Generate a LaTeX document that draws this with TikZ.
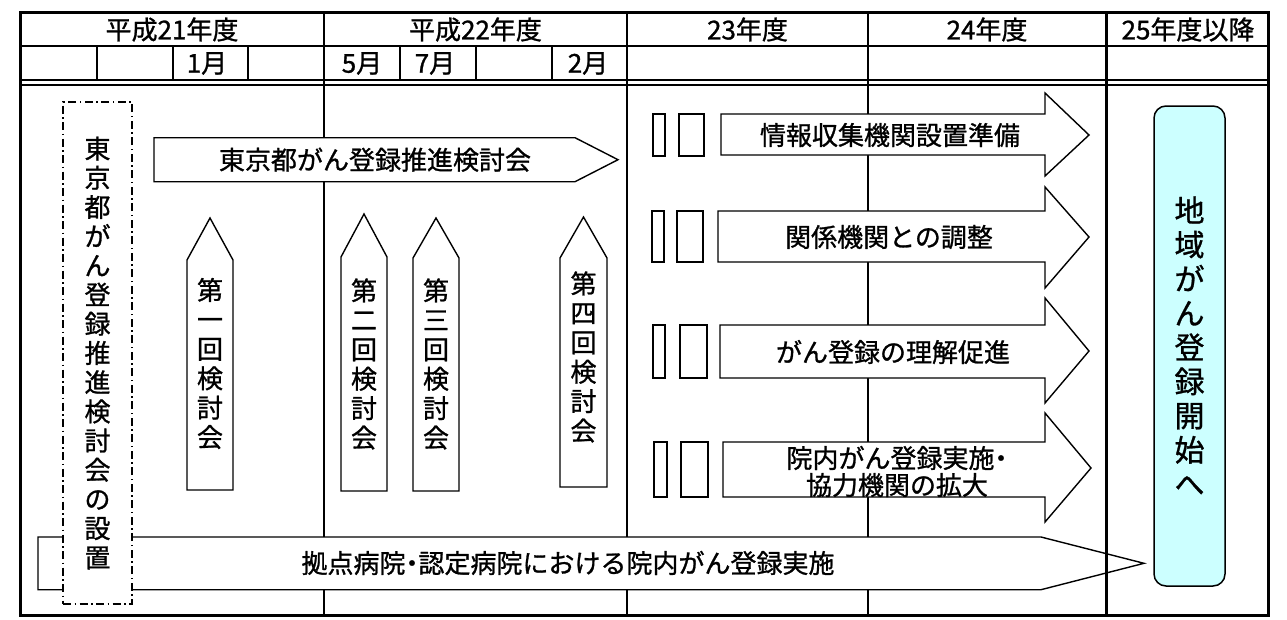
\documentclass[tikz,border=0pt]{standalone}
\usepackage{fontspec}
\setmainfont{Noto Sans CJK JP}[BoldFont={Noto Sans CJK JP}, BoldFeatures={FakeBold=1.0}]
\definecolor{cyanfill}{RGB}{204,255,255}
\newcommand{\nardot}{\kern-0.25em・\kern-0.25em}
\begin{document}
\begin{tikzpicture}[x=1pt,y=-1pt,
  framerule/.style={line width=3.3pt},
  mainrule/.style={line width=2.7pt},
  rowrule/.style={line width=2.3pt},
  subrule/.style={line width=2pt},
  shp/.style={draw=black, fill=white, line width=1.4pt, line join=miter},
  txt/.style={inner sep=0pt, font=\fontsize{26}{30}\selectfont\bfseries},
  vtxt/.style={inner sep=0pt, align=center, font=\fontsize{26}{29.4}\selectfont\bfseries},
]
\useasboundingbox (0,0) rectangle (1287,619);
\fill[white] (0,0) rectangle (1287,619);

% ---- grid ----
\draw[rowrule] (20.5,46) -- (1268.7,46);
\draw[rowrule] (20.5,80) -- (1268.7,80);
\draw[rowrule] (20.5,85) -- (1268.7,85);
\foreach \x in {97,173,248,400,476,552} \draw[subrule] (\x,46) -- (\x,80);
\foreach \x in {324,627,868} \draw[mainrule] (\x,12.5) -- (\x,615.7);

% ---- header texts ----
\node[txt] (h21) at (172,29.5) {平成21年度};
\node[txt] (h22) at (475.5,29.5) {平成22年度};
\node[txt] (h23) at (747.5,29.5) {23年度};
\node[txt] (h24) at (987,29.5) {24年度};
\node[txt] (h25) at (1188,29.5) {25年度以降};
\node[txt] (m1) at (207,63.5) {1月};
\node[txt] (m5) at (362,63.5) {5月};
\node[txt] (m7) at (435,63.5) {7月};
\node[txt] (m2) at (588,63.5) {2月};

% ---- bottom long arrow ----
\draw[shp] (38,537) -- (1041,537) -- (1144,563.3) -- (1041,589.7) -- (38,589.7) -- cycle;
\node[txt] (bottxt) at (568,563) {拠点病院\nardot 認定病院における院内がん登録実施};

% ---- dash-dot box with vertical text ----
\node[draw=black, fill=white, line width=1.4pt,
      dash pattern=on 8pt off 3.5pt on 1.5pt off 3.5pt,
      minimum width=69pt, minimum height=502pt, inner sep=0pt,
      align=center, font=\fontsize{26}{29.2}\selectfont\bfseries] (setup) at (97.5,353)
  {東\\京\\都\\が\\ん\\登\\録\\推\\進\\検\\討\\会\\の\\設\\置};

% ---- top meeting arrow ----
\draw[shp] (154,137.7) -- (575,137.7) -- (618,159.7) -- (575,181.7) -- (154,181.7) -- cycle;
\node[txt] (kentou) at (375,159.7) {東京都がん登録推進検討会};

% ---- vertical meeting arrows ----
\draw[shp] (187,490) -- (187,260) -- (210,218) -- (233,260) -- (233,490) -- cycle;
\node[vtxt] (k1) at (210,363.5) {第\\一\\回\\検\\討\\会};
\draw[shp] (341,491) -- (341,257) -- (364,214) -- (387,257) -- (387,491) -- cycle;
\node[vtxt] (k2) at (364,364) {第\\二\\回\\検\\討\\会};
\draw[shp] (413,491) -- (413,258) -- (436,218) -- (459,258) -- (459,491) -- cycle;
\node[vtxt] (k3) at (436,364) {第\\三\\回\\検\\討\\会};
\draw[shp] (560,487) -- (560,258) -- (583.5,217) -- (607,258) -- (607,487) -- cycle;
\node[vtxt] (k4) at (583.5,357) {第\\四\\回\\検\\討\\会};

% ---- right block arrows with small boxes ----
\draw[shp] (653,114) rectangle (665,156);
\draw[shp] (679,114) rectangle (704,156);
\draw[shp] (721,114) -- (1045,114) -- (1045,93) -- (1089,135) -- (1045,176) -- (1045,155) -- (721,155) -- cycle;
\node[txt] (a1) at (890,135) {情報収集機関設置準備};

\draw[shp] (652,211) rectangle (664,262);
\draw[shp] (677,211) rectangle (703,262);
\draw[shp] (718,211) -- (1045,211) -- (1045,187) -- (1089,237) -- (1045,288) -- (1045,262) -- (718,262) -- cycle;
\node[txt] (a2) at (889,237) {関係機関との調整};

\draw[shp] (653,325) rectangle (665,378);
\draw[shp] (680,325) rectangle (707,378);
\draw[shp] (720,325) -- (1045,325) -- (1045,298) -- (1089,351) -- (1045,403) -- (1045,378) -- (720,378) -- cycle;
\node[txt] (a3) at (893,352) {がん登録の理解促進};

\draw[shp] (654,442) rectangle (667,497);
\draw[shp] (681,442) rectangle (708,497);
\draw[shp] (723,442) -- (1045,442) -- (1045,413) -- (1091,468) -- (1045,522) -- (1045,497) -- (723,497) -- cycle;
\node[txt, align=center, font=\fontsize{26}{27}\selectfont\bfseries] (a4) at (897,471.5) {院内がん登録実施\nardot\\協力機関の拡大};

% ---- divider drawn over the long arrow tip ----
\draw[mainrule] (1106.5,12.5) -- (1106.5,615.7);

% ---- goal box ----
\node[draw=black, fill=cyanfill, line width=1.5pt, rounded corners=12pt,
      minimum width=71pt, minimum height=480pt, inner sep=0pt,
      align=center, font=\fontsize{30}{34.2}\selectfont\bfseries] (goal) at (1189.5,346)
  {地\\域\\が\\ん\\登\\録\\開\\始\\へ};

% ---- outer frame ----
\draw[framerule] (20.5,12.5) rectangle (1268.7,615.7);
\end{tikzpicture}
\end{document}
